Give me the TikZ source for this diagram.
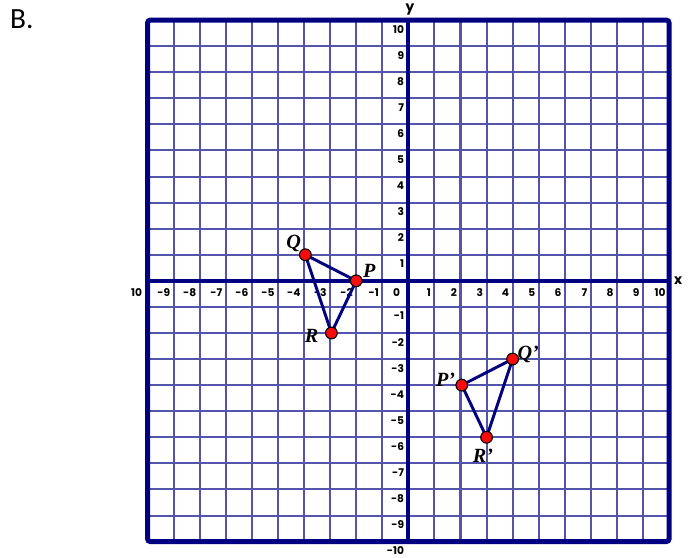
\documentclass[tikz,border=0pt]{standalone}
\usepackage{fontspec}
\setmainfont{Liberation Serif}
\newfontfamily\tickfont{Poppins}
\newfontfamily\partfont{Carlito}
\usetikzlibrary{calc}
\definecolor{gridblue}{RGB}{84,84,172}
\definecolor{axisblue}{RGB}{0,0,128}
\definecolor{ptred}{RGB}{250,10,10}

\begin{document}
\begin{tikzpicture}[x=0.5cm, y=0.5cm,
  ticklbl/.style={font=\tickfont\bfseries\fontsize{5.8}{6}\selectfont, inner sep=0pt},
  axislbl/.style={font=\tickfont\bfseries\fontsize{7.5}{8}\selectfont, inner sep=0pt},
  ptlbl/.style={font=\bfseries\itshape\fontsize{11}{12}\selectfont, inner sep=0pt},
  pt/.style={circle, fill=ptred, draw=black, line width=0.6pt, minimum size=6.4pt, inner sep=0pt},
  tri/.style={axisblue, line width=1.6pt, line join=round}]

  \useasboundingbox (-15.66,-10.6) rectangle (10.84,10.77);

  %% ── Part label ──────────────────────────────────────────────────
  \node[font=\partfont\fontsize{16}{18}\selectfont] (part) at (-14.82,10.04) {B.};

  %% ── Grid ────────────────────────────────────────────────────────
  \foreach \k in {-9,...,9}{
    \draw[gridblue, line width=1.1pt] (\k,-10) -- (\k,10);
    \draw[gridblue, line width=1.1pt] (-10,\k) -- (10,\k);
  }

  %% ── Axes and frame ──────────────────────────────────────────────
  \draw[axisblue, line width=2.2pt] (0,-10) -- (0,10);
  \draw[axisblue, line width=2.2pt] (-10,0) -- (10,0);
  \draw[axisblue, line width=2.7pt, rounded corners=1.5pt] (-10,-10) rectangle (10,10);

  \node[axislbl] (xlbl) at (10.35,0.02) {x};
  \node[axislbl] (ylbl) at (0.06,10.4) {y};

  %% ── Tick labels ─────────────────────────────────────────────────
  \foreach \k in {-9,...,-1,1,2,...,10}{
    \node[ticklbl, anchor=east] at (\k-0.12,-0.45) {\k};
  }
  \node[ticklbl, anchor=east] at (-10.2,-0.45) {10};
  \node[ticklbl, anchor=east] at (-0.3,-0.45) {0};
  \foreach \k in {-10,...,-1,1,2,...,10}{
    \node[ticklbl, anchor=east] at (-0.15,\k-0.35) {\k};
  }

  %% ── Triangle PQR ────────────────────────────────────────────────
  \coordinate (P) at (-2,0);
  \coordinate (Q) at (-3.95,1);
  \coordinate (R) at (-2.95,-2);
  \draw[tri] (P) -- (Q) -- (R) -- cycle;

  %% ── Image P'Q'R' ────────────────────────────────────────────────
  \coordinate (P1) at (2.05,-4);
  \coordinate (Q1) at (4,-3);
  \coordinate (R1) at (3,-6);
  \draw[tri] (P1) -- (Q1) -- (R1) -- cycle;

  %% ── Vertices ────────────────────────────────────────────────────
  \foreach \v in {P,Q,R,P1,Q1,R1}{
    \node[pt] (dot\v) at (\v) {};
  }

  \node[ptlbl] (lblQ) at ($(Q)+(-0.45,0.45)$) {Q};
  \node[ptlbl] (lblP) at ($(P)+(0.5,0.38)$) {P};
  \node[ptlbl] (lblR) at ($(R)+(-0.76,-0.12)$) {R};
  \node[ptlbl] (lblP1) at ($(P1)+(-0.62,0.22)$) {P'};
  \node[ptlbl] (lblQ1) at ($(Q1)+(0.6,0.18)$) {Q'};
  \node[ptlbl] (lblR1) at ($(R1)+(-0.14,-0.7)$) {R'};

\end{tikzpicture}
\end{document}
